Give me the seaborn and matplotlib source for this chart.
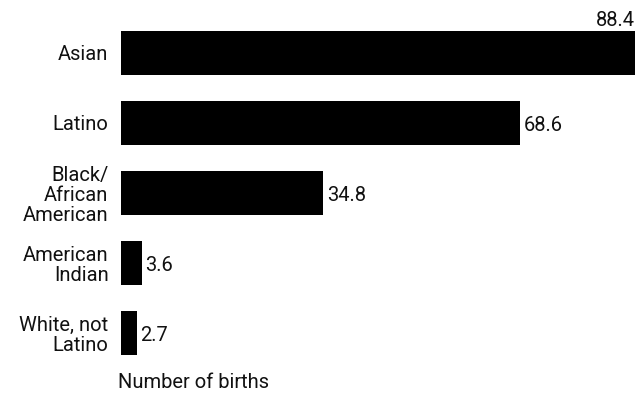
import matplotlib
matplotlib.use("Agg")
import matplotlib.pyplot as plt
import seaborn as sns
import pandas as pd

categories = ["Asian", "Latino", "Black/\nAfrican\nAmerican", "American\nIndian", "White, not\nLatino"]
values = [88.4, 68.6, 34.8, 3.6, 2.7]
value_labels = ["88.4", "68.6", "34.8", "3.6", "2.7"]
x_label = "Number of births"

sns.set_theme(style="white")
plt.rcParams['font.family'] = ['Roboto', 'DejaVu Sans']
FS = 14.5

df = pd.DataFrame({"group": categories, "births": values})

fig = plt.figure(figsize=(6.37, 3.94), dpi=100)
ax = fig.add_axes([121/637, 1 - 368/394, 1 - 121/637, 350/394])
sns.barplot(data=df, x="births", y="group", orient="h", color="black",
            width=0.63, saturation=1, linewidth=0, ax=ax)
ax.set_xlim(0, 88.7)
ax.set_ylim(4.5, -0.5)
for s in ax.spines.values():
    s.set_visible(False)
ax.set_xticks([])
ax.set_xlabel("")
ax.set_ylabel("")
ax.tick_params(axis="y", length=0, pad=9, labelsize=FS, labelcolor="#111111")
for lab in ax.get_yticklabels():
    lab.set_horizontalalignment("right")
    lab.set_multialignment("right")
    lab.set_linespacing(1.08)

for i, (v, t) in enumerate(zip(values, value_labels)):
    if i == 0:
        ax.text(v, i - 0.33, t, ha="right", va="bottom", fontsize=FS, color="#111111")
    else:
        ax.text(v + 0.6, i + 0.03, t, ha="left", va="center", fontsize=FS, color="#111111")

fig.text(118/637, 1 - 383/394, x_label, ha="left", va="center", fontsize=FS, color="#111111")

fig.savefig("out.png", dpi=100)
